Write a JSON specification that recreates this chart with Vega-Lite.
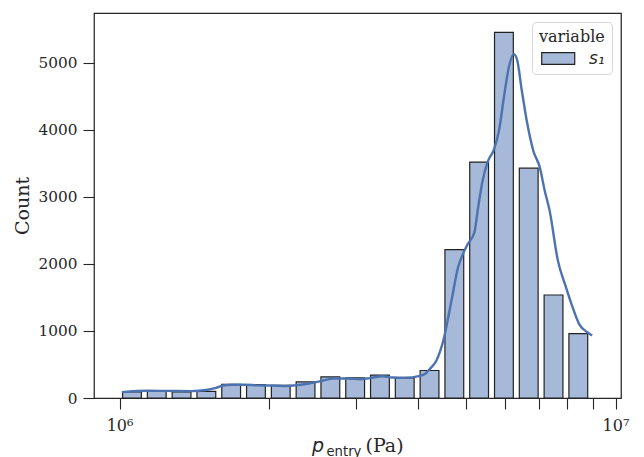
{
  "$schema": "https://vega.github.io/schema/vega-lite/v6.json",
  "width": 527,
  "height": 385,
  "autosize": {"type": "none"},
  "padding": {"left": 94, "top": 13, "right": 23, "bottom": 59},
  "background": "white",
  "config": {
    "view": {"stroke": "#262626", "strokeWidth": 1.25},
    "axis": {
      "domain": false,
      "grid": false,
      "tickColor": "#262626",
      "tickSize": 11,
      "tickWidth": 1.1,
      "labelFont": "DejaVu Serif",
      "labelFontSize": 15.3,
      "labelColor": "#262626",
      "titleColor": "#262626",
      "labelPadding": 6
    }
  },
  "datasets": {
    "hist": [
      {"p": 1059300, "count": 90, "variable": "s₁"},
      {"p": 1188500, "count": 100, "variable": "s₁"},
      {"p": 1333500, "count": 90, "variable": "s₁"},
      {"p": 1496200, "count": 100, "variable": "s₁"},
      {"p": 1678800, "count": 205, "variable": "s₁"},
      {"p": 1883600, "count": 200, "variable": "s₁"},
      {"p": 2113500, "count": 190, "variable": "s₁"},
      {"p": 2371400, "count": 240, "variable": "s₁"},
      {"p": 2660700, "count": 315, "variable": "s₁"},
      {"p": 2985400, "count": 300, "variable": "s₁"},
      {"p": 3349700, "count": 340, "variable": "s₁"},
      {"p": 3758400, "count": 300, "variable": "s₁"},
      {"p": 4217000, "count": 410, "variable": "s₁"},
      {"p": 4731500, "count": 2215, "variable": "s₁"},
      {"p": 5308800, "count": 3520, "variable": "s₁"},
      {"p": 5956600, "count": 5455, "variable": "s₁"},
      {"p": 6683400, "count": 3430, "variable": "s₁"},
      {"p": 7498900, "count": 1537, "variable": "s₁"},
      {"p": 8414000, "count": 961, "variable": "s₁"}
    ],
    "kde": [
      {"p": 1010500, "count": 88},
      {"p": 1137600, "count": 108},
      {"p": 1245800, "count": 106},
      {"p": 1396400, "count": 103},
      {"p": 1495000, "count": 120},
      {"p": 1564700, "count": 150},
      {"p": 1613100, "count": 185},
      {"p": 1688300, "count": 198},
      {"p": 1793700, "count": 198},
      {"p": 1906500, "count": 188},
      {"p": 2025300, "count": 186},
      {"p": 2169600, "count": 180},
      {"p": 2253000, "count": 188},
      {"p": 2394300, "count": 213},
      {"p": 2543700, "count": 252},
      {"p": 2702500, "count": 290},
      {"p": 2872900, "count": 290},
      {"p": 3052100, "count": 280},
      {"p": 3194400, "count": 297},
      {"p": 3394400, "count": 325},
      {"p": 3552800, "count": 305},
      {"p": 3776800, "count": 302},
      {"p": 4012200, "count": 327},
      {"p": 4136000, "count": 362},
      {"p": 4227700, "count": 437},
      {"p": 4354800, "count": 560},
      {"p": 4495800, "count": 858},
      {"p": 4669800, "count": 1455},
      {"p": 4814100, "count": 1950},
      {"p": 4925100, "count": 2150},
      {"p": 5038600, "count": 2300},
      {"p": 5194200, "count": 2473},
      {"p": 5273500, "count": 2796},
      {"p": 5395100, "count": 3243},
      {"p": 5518900, "count": 3516},
      {"p": 5690300, "count": 3715},
      {"p": 5821400, "count": 3988},
      {"p": 5955500, "count": 4484},
      {"p": 6092800, "count": 4931},
      {"p": 6233200, "count": 5131},
      {"p": 6327700, "count": 5057},
      {"p": 6473700, "count": 4584},
      {"p": 6622900, "count": 4136},
      {"p": 6827500, "count": 3690},
      {"p": 7036800, "count": 3441},
      {"p": 7199100, "count": 3094},
      {"p": 7365100, "count": 2796},
      {"p": 7652000, "count": 2050},
      {"p": 7945100, "count": 1653},
      {"p": 8191900, "count": 1355},
      {"p": 8441700, "count": 1107},
      {"p": 8770000, "count": 982},
      {"p": 8972100, "count": 933}
    ]
  },
  "layer": [
    {
      "data": {"name": "hist"},
      "mark": {"type": "bar", "width": 18.8, "stroke": "#222222", "strokeWidth": 1.2, "fillOpacity": 1},
      "encoding": {
        "x": {
          "field": "p",
          "type": "quantitative",
          "scale": {"type": "log", "domain": [908900, 10023000], "nice": false},
          "axis": {
            "orient": "bottom",
            "values": [1000000, 2000000, 3000000, 4000000, 5000000, 6000000, 7000000, 8000000, 9000000, 10000000],
            "labelExpr": "datum.value == 1000000 ? '10⁶' : (datum.value == 10000000 ? '10⁷' : '')",
            "labelOverlap": false,
            "labelFlush": false,
            "labelBound": false,
            "labelPadding": 8,
            "labelFontSize": 16,
            "title": "p",
            "titleFont": "DejaVu Sans",
            "titleFontStyle": "italic",
            "titleFontSize": 19,
            "titleFontWeight": "normal",
            "titleX": 217.5,
            "titleY": 53,
            "titleAlign": "left",
            "titleBaseline": "alphabetic"
          }
        },
        "y": {
          "field": "count",
          "type": "quantitative",
          "scale": {"domain": [0, 5745], "nice": false},
          "axis": {
            "orient": "left",
            "values": [0, 1000, 2000, 3000, 4000, 5000],
            "format": "d",
            "title": "Count",
            "titleFont": "DejaVu Serif",
            "titleFontSize": 19,
            "titleFontWeight": "normal",
            "titlePadding": 6
          }
        },
        "color": {
          "field": "variable",
          "type": "nominal",
          "scale": {"range": ["#a6b9d8"]},
          "legend": {
            "orient": "none",
            "legendX": 438,
            "legendY": 9,
            "title": "variable",
            "titleFont": "DejaVu Serif",
            "titleFontSize": 16,
            "titleFontWeight": "normal",
            "titleColor": "#262626",
            "titlePadding": 1,
            "labelFont": "DejaVu Sans",
            "labelFontStyle": "italic",
            "labelFontSize": 17,
            "labelColor": "#262626",
            "labelOffset": 25,
            "symbolType": "M-0.83,-0.5L1.97,-0.5L1.97,0.5L-0.83,0.5Z",
            "symbolSize": 556,
            "symbolStrokeColor": "#222222",
            "symbolStrokeWidth": 1.2,
            "fillColor": "white",
            "strokeColor": "#d6d6d6",
            "cornerRadius": 4,
            "padding": 7
          }
        }
      }
    },
    {
      "data": {"name": "kde"},
      "mark": {"type": "line", "color": "#4c72b0", "strokeWidth": 2.4, "interpolate": "monotone"},
      "encoding": {
        "x": {
          "field": "p",
          "type": "quantitative",
          "axis": {
            "orient": "bottom",
            "labels": false,
            "ticks": false,
            "domain": false,
            "title": "entry",
            "titleFont": "DejaVu Sans",
            "titleFontSize": 13.2,
            "titleFontWeight": "normal",
            "titleX": 232,
            "titleY": 57,
            "titleAlign": "left",
            "titleBaseline": "alphabetic"
          }
        },
        "y": {
          "field": "count",
          "type": "quantitative",
          "axis": {
            "orient": "left",
            "labels": false,
            "ticks": false,
            "domain": false,
            "title": "(Pa)",
            "titleAngle": 0,
            "titleFont": "DejaVu Serif",
            "titleFontSize": 19,
            "titleFontWeight": "normal",
            "titleX": 271,
            "titleY": 438,
            "titleAlign": "left",
            "titleBaseline": "alphabetic"
          }
        }
      }
    }
  ],
  "resolve": {"axis": {"x": "independent", "y": "independent"}}
}
